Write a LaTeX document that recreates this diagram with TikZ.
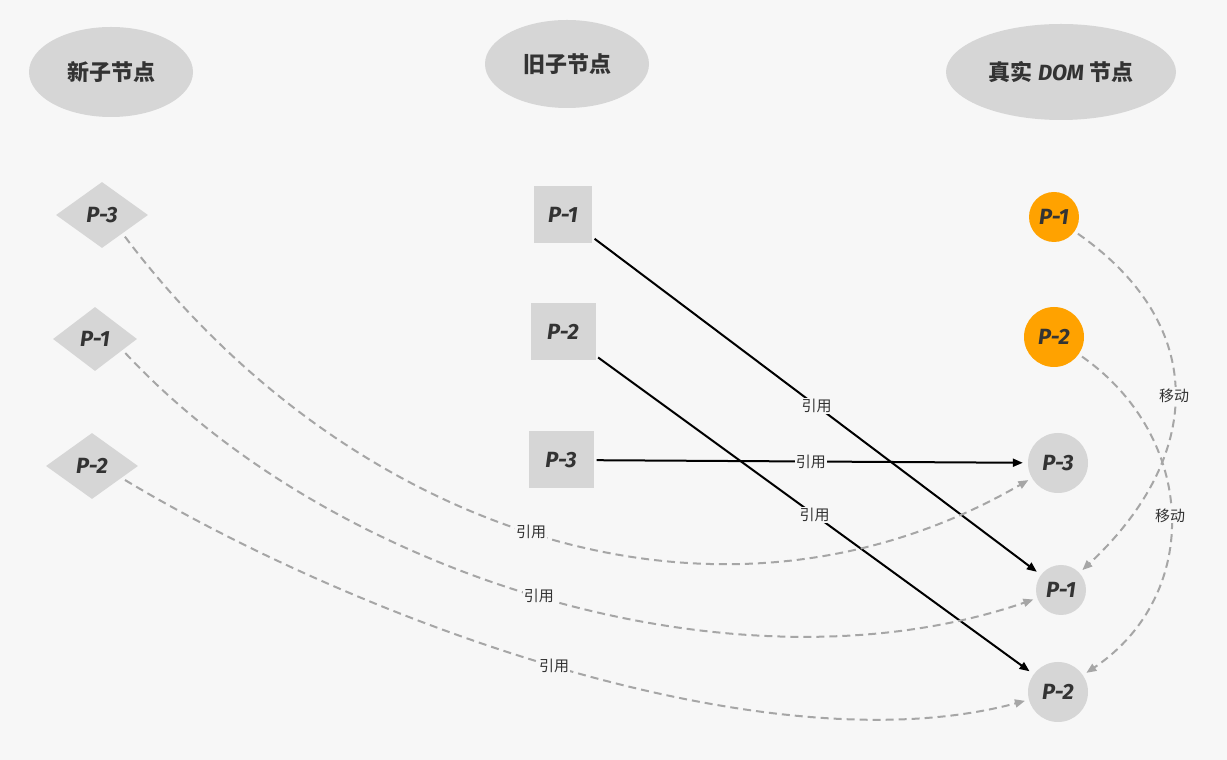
\documentclass[tikz,border=0pt]{standalone}
\usepackage{fontspec}
\newfontfamily\cjk{Noto Sans CJK SC}
\newfontfamily\hand{Fira Sans}
\usetikzlibrary{shapes.geometric,arrows.meta}
\definecolor{bg}{HTML}{F7F7F7}
\definecolor{box}{HTML}{D6D6D6}
\definecolor{orng}{HTML}{FFA200}
\definecolor{linegray}{HTML}{A6A6A6}
\definecolor{ink}{HTML}{333333}
\tikzset{
  head/.style={ellipse,fill=box,inner sep=0pt,text=ink,font=\cjk\bfseries\fontsize{22}{22}\selectfont},
  pnode/.style={fill=box,inner sep=0pt,text=ink,font=\hand\bfseries\itshape\fontsize{22}{22}\selectfont},
  newnode/.style={pnode,diamond},
  oldnode/.style={pnode,rectangle,minimum height=57pt},
  domnode/.style={pnode,circle},
  ref/.style={line width=2pt,-{Triangle[length=10pt,width=8pt]},shorten >=5pt,shorten <=3pt},
  move/.style={linegray,line width=2pt,dash pattern=on 8pt off 5pt,-{Triangle[length=10pt,width=8pt]},shorten >=4pt,shorten <=4pt},
  lbl/.style={fill=bg,inner sep=1pt,text=ink,font=\cjk\fontsize{15}{15}\selectfont}
}
\begin{document}
\begin{tikzpicture}[x=1pt,y=1pt] % one unit = one pixel of the reference
\useasboundingbox[fill=bg] (0,0) rectangle (1227,760);

% headings
\node[head,minimum width=164pt,minimum height=90pt] (hnew) at (111,688) {新子节点};
\node[head,minimum width=164pt,minimum height=88pt] (hold) at (567,696) {旧子节点};
\node[head,minimum width=230pt,minimum height=96pt] (hdom) at (1061,688) {真实 {\hand\itshape DOM} 节点};

% new children
\node[newnode,minimum width=92pt,minimum height=66pt] (new3) at (102,545) {P-3};
\node[newnode,minimum width=84pt,minimum height=64pt] (new1) at (95,421) {P-1};
\node[newnode,minimum width=92pt,minimum height=66pt] (new2) at (92,294) {P-2};

% old children
\node[oldnode,minimum width=58pt] (old1) at (563,545) {P-1};
\node[oldnode,minimum width=65pt] (old2) at (563,428) {P-2};
\node[oldnode,minimum width=65pt] (old3) at (561,300) {P-3};

% real DOM
\node[domnode,fill=orng,minimum size=50pt] (dom1) at (1054,543) {P-1};
\node[domnode,fill=orng,minimum size=60pt] (dom2) at (1054,423) {P-2};
\node[domnode,minimum size=60pt] (dom3) at (1058,297) {P-3};
\node[domnode,minimum size=50pt] (dom1b) at (1061,170) {P-1};
\node[domnode,minimum size=60pt] (dom2b) at (1058,68) {P-2};

% old -> real
\draw[ref] (old1) -- node[lbl] {引用} (dom1b);
\draw[ref] (old2) -- node[lbl] {引用} (dom2b);
\draw[ref] (old3) -- node[lbl] {引用} (dom3);

% new -> real
\draw[move] (new3.-42) to[out=-53,in=210] node[lbl,pos=0.49] {引用} (dom3);
\draw[move] (new1.-22) to[out=-47,in=199,looseness=0.85] node[lbl,pos=0.49] {引用} (dom1b);
\draw[move] (new2.-22) to[out=-31,in=195,looseness=0.75] node[lbl,pos=0.49] {引用} (dom2b);

% moves
\draw[move] (dom1) to[out=-35,in=43,looseness=1.25] node[lbl] {移动} (dom1b);
\draw[move] (dom2) to[out=-35,in=34,looseness=1.15] node[lbl] {移动} (dom2b);

\end{tikzpicture}
\end{document}
